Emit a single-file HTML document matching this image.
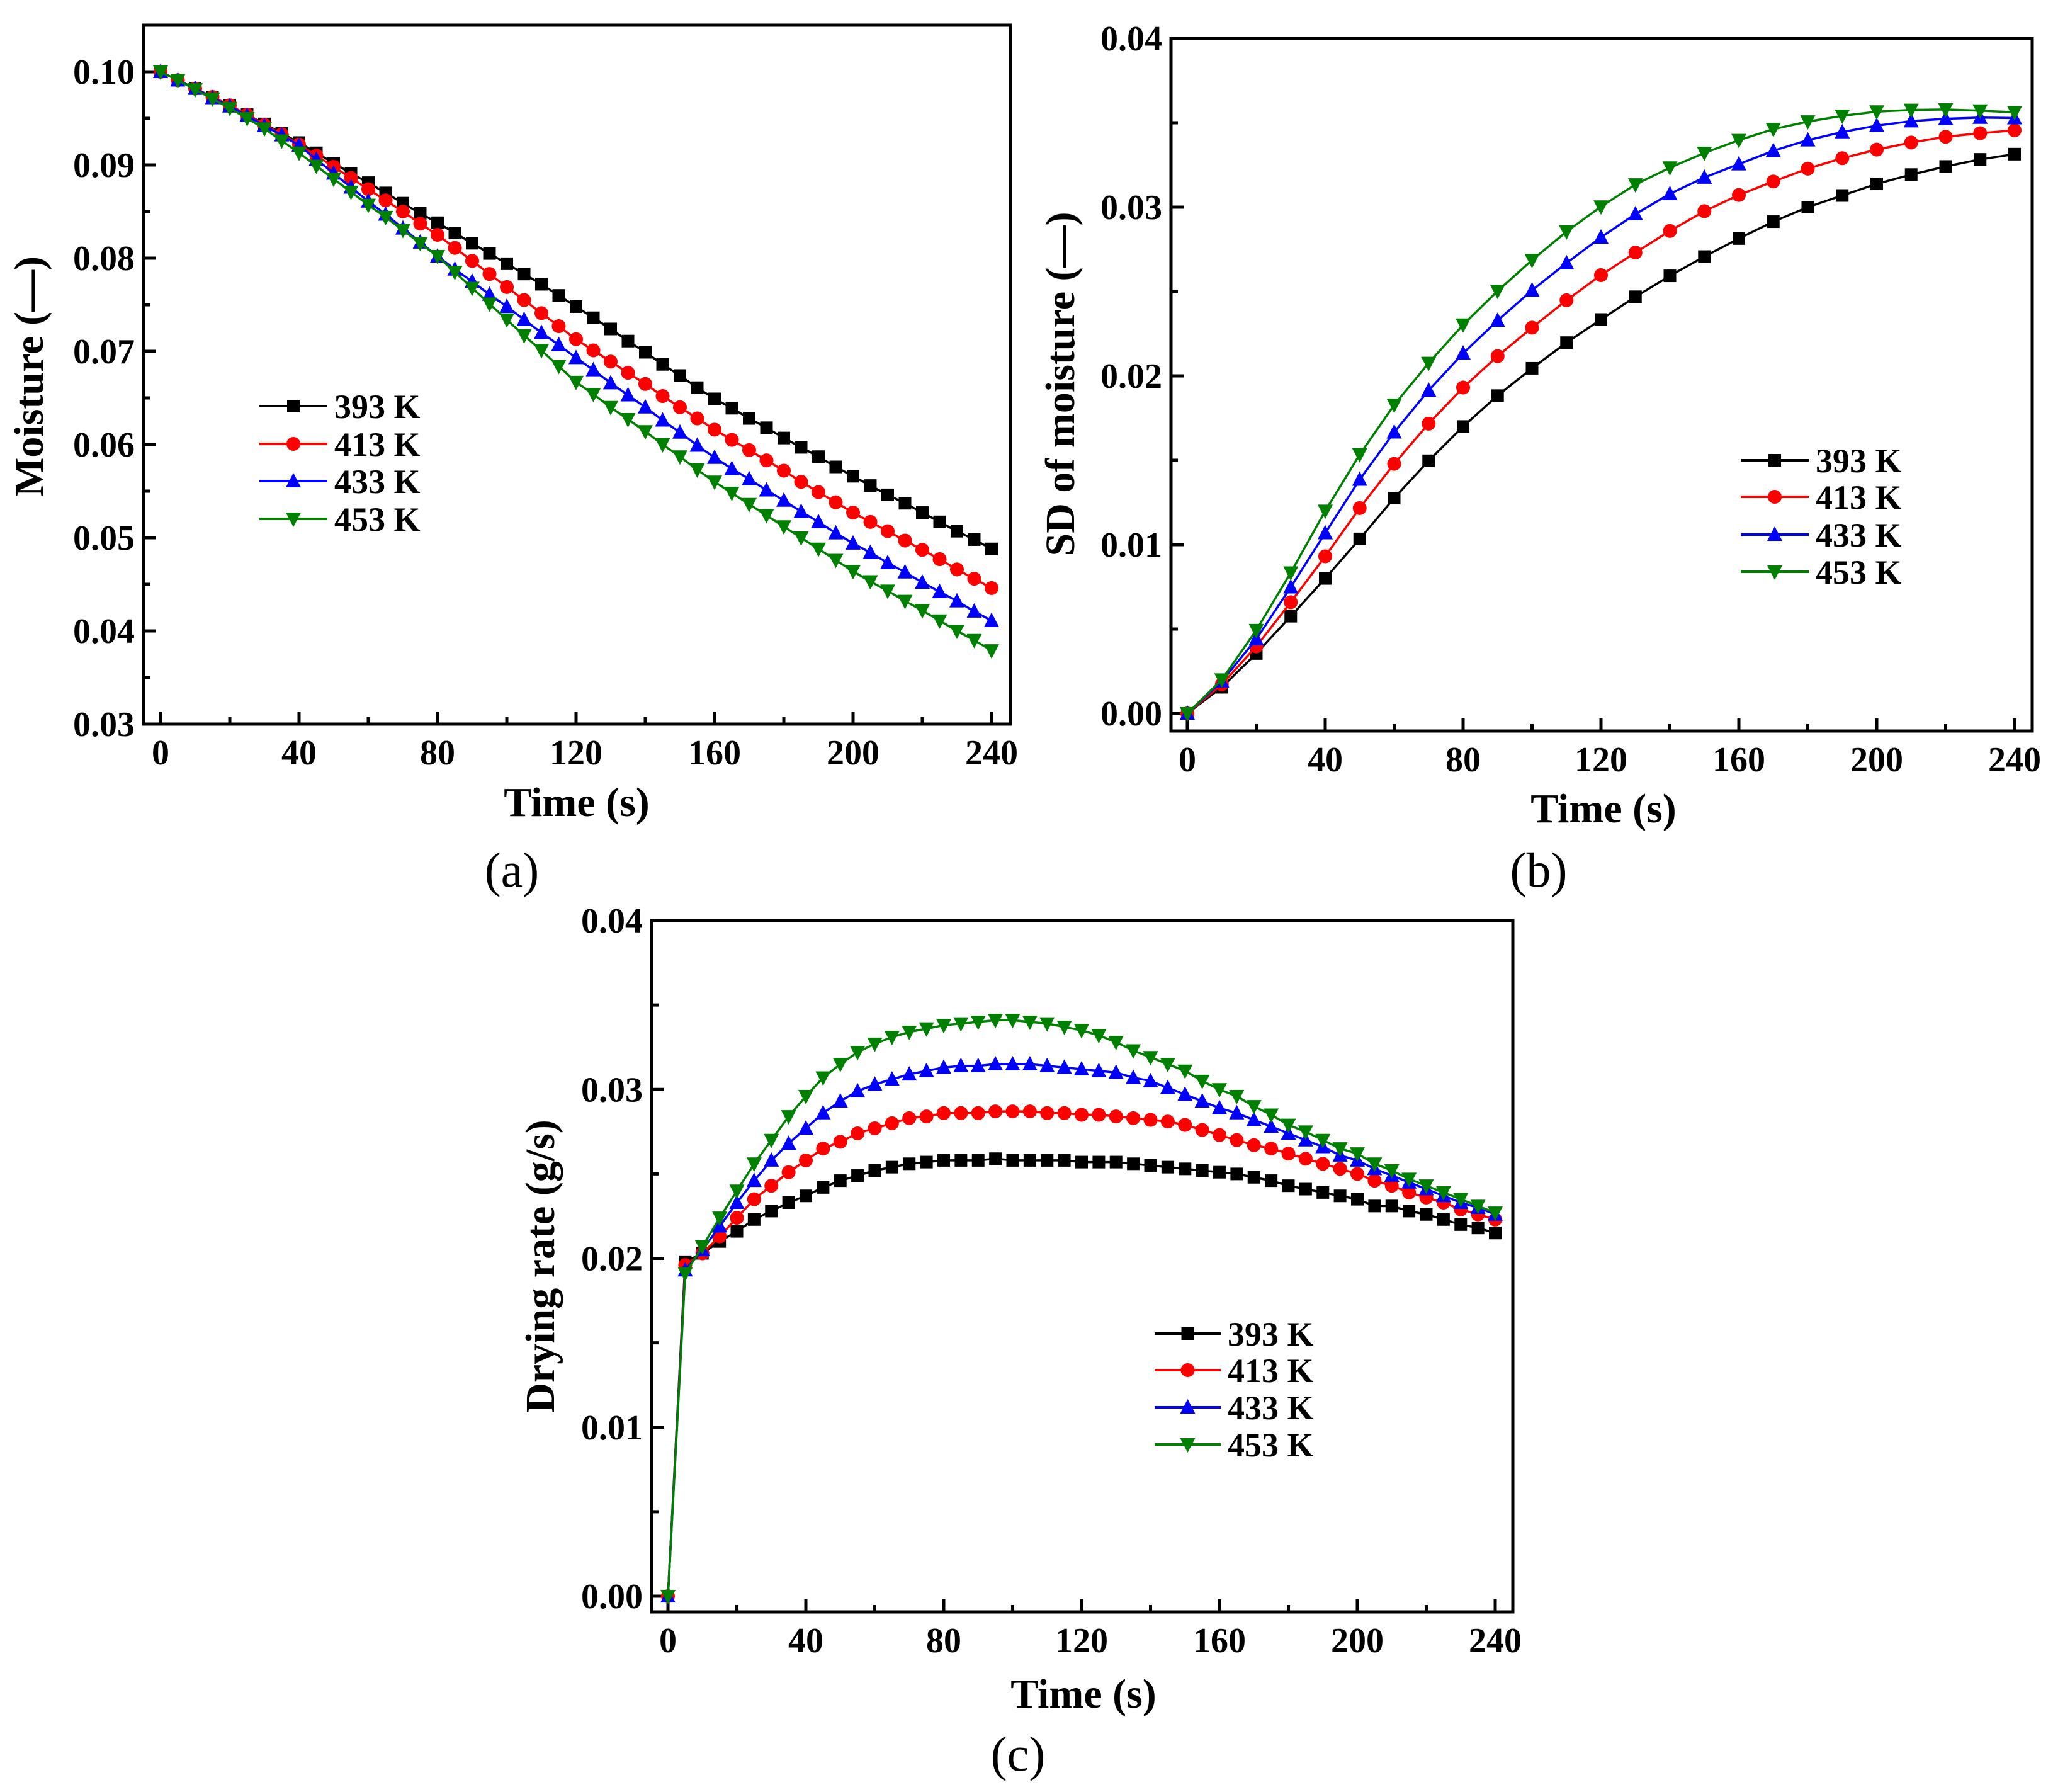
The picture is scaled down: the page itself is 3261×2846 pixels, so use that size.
<!DOCTYPE html>
<html><head><meta charset="utf-8"><style>
html,body{margin:0;padding:0;background:#fff;}
svg{display:block;font-family:"Liberation Serif",serif;}
</style></head><body>
<svg id="fig" width="3261" height="2846" viewBox="0 0 3261 2846" xmlns="http://www.w3.org/2000/svg"></svg>
<script>
const seriesNames = ["393 K","413 K","433 K","453 K"];
const seriesColors = ["#000000","#ff0000","#0000ff","#008000"];
const markerShapes = ["square","circle","up","down"];

// (a) moisture, every 5 s
const timeA = [0,5,10,15,20,25,30,35,40,45,50,55,60,65,70,75,80,85,90,95,100,105,110,115,120,125,130,135,140,145,150,155,160,165,170,175,180,185,190,195,200,205,210,215,220,225,230,235,240];
const moist393 = [.1000,.0991,.0982,.0973,.0964,.0954,.0944,.0934,.0924,.0913,.0902,.0891,.0881,.0870,.0859,.0848,.0838,.0827,.0816,.0805,.0794,.0783,.0772,.0760,.0748,.0736,.0724,.0711,.0699,.0686,.0674,.0661,.0649,.0639,.0628,.0618,.0607,.0597,.0587,.0576,.0566,.0556,.0546,.0537,.0527,.0517,.0507,.0498,.0488];
const moist413 = [.1000,.0991,.0982,.0973,.0964,.0954,.0943,.0933,.0922,.0910,.0898,.0886,.0874,.0862,.0850,.0837,.0825,.0811,.0797,.0783,.0769,.0755,.0741,.0727,.0713,.0701,.0689,.0677,.0665,.0652,.0640,.0628,.0616,.0605,.0594,.0583,.0572,.0560,.0549,.0538,.0527,.0517,.0507,.0497,.0487,.0477,.0466,.0456,.0446];
const moist433 = [.1000,.0991,.0982,.0972,.0963,.0953,.0942,.0932,.0921,.0906,.0891,.0876,.0861,.0847,.0832,.0817,.0802,.0788,.0775,.0761,.0748,.0734,.0720,.0707,.0693,.0680,.0666,.0653,.0640,.0626,.0613,.0599,.0586,.0574,.0563,.0551,.0540,.0528,.0517,.0505,.0494,.0484,.0473,.0463,.0452,.0442,.0432,.0421,.0411];
const moist453 = [.1000,.0991,.0981,.0971,.0961,.0950,.0939,.0926,.0913,.0899,.0885,.0871,.0857,.0844,.0830,.0816,.0802,.0785,.0768,.0751,.0734,.0717,.0701,.0684,.0667,.0654,.0640,.0627,.0614,.0600,.0587,.0573,.0560,.0548,.0536,.0524,.0512,.0500,.0488,.0476,.0464,.0453,.0443,.0432,.0422,.0411,.0400,.0390,.0379];

// (b) SD of moisture, every 10 s
const timeB = [0,10,20,30,40,50,60,70,80,90,100,110,120,130,140,150,160,170,180,190,200,210,220,230,240];
const sd393 = [0,.00155,.00355,.00576,.0080,.01034,.01276,.01497,.0170,.01883,.02045,.02197,.02334,.02469,.02593,.02707,.02814,.02914,.0300,.03069,.03138,.03193,.03241,.03283,.03314];
const sd413 = [0,.00172,.00397,.00659,.00931,.01217,.01479,.01717,.01931,.02117,.02286,.02448,.02597,.02731,.02859,.02976,.03072,.03152,.03228,.0329,.03341,.03383,.03417,.03438,.03455];
const sd433 = [0,.0019,.00441,.00748,.01069,.01386,.01666,.01914,.02134,.02328,.02507,.02669,.02821,.02959,.03079,.03176,.03255,.03334,.03397,.03445,.03483,.0351,.03524,.03531,.03528];
const sd453 = [0,.0020,.00493,.00834,.0120,.01534,.01828,.02076,.02303,.02503,.02686,.02855,.03003,.03134,.03234,.03321,.03397,.03462,.03507,.03541,.03566,.03576,.03579,.03572,.03562];

// (c) drying rate, every 5 s
const timeC = timeA;
const rate393 = [0,.0198,.0203,.0210,.0216,.0223,.0228,.0233,.0237,.0242,.0246,.0249,.0252,.0254,.0256,.0257,.0258,.0258,.0258,.0259,.0258,.0258,.0258,.0258,.0257,.0257,.0257,.0256,.0255,.0254,.0253,.0252,.0251,.0250,.0248,.0246,.0243,.0241,.0239,.0237,.0235,.0231,.0231,.0228,.0226,.0223,.0220,.0218,.0215];
const rate413 = [0,.0196,.0203,.0213,.0224,.0235,.0243,.0251,.0258,.0265,.0269,.0274,.0277,.0280,.0283,.0284,.0286,.0286,.0286,.0287,.0287,.0287,.0286,.0286,.0285,.0285,.0284,.0283,.0282,.0281,.0279,.0276,.0273,.0270,.0267,.0265,.0262,.0259,.0256,.0253,.0250,.0246,.0243,.0239,.0236,.0233,.0229,.0226,.0223];
const rate433 = [0,.0193,.0205,.0219,.0233,.0246,.0258,.0268,.0277,.0286,.0293,.0299,.0303,.0306,.0309,.0311,.0313,.0314,.0314,.0315,.0315,.0315,.0314,.0313,.0312,.0311,.0310,.0307,.0305,.0301,.0297,.0293,.0289,.0286,.0282,.0278,.0274,.0270,.0266,.0261,.0258,.0253,.0249,.0245,.0241,.0237,.0233,.0230,.0226];
const rate453 = [0,.0191,.0207,.0224,.0240,.0256,.0270,.0284,.0296,.0307,.0315,.0322,.0327,.0331,.0334,.0336,.0338,.0339,.0340,.0341,.0341,.0340,.0339,.0337,.0335,.0332,.0328,.0323,.0319,.0315,.0311,.0305,.0300,.0296,.0290,.0285,.0279,.0275,.0270,.0265,.0262,.0256,.0252,.0247,.0243,.0239,.0235,.0231,.0227];

const xTickLabels = ["0","40","80","120","160","200","240"];
const yTicksA = ["0.03","0.04","0.05","0.06","0.07","0.08","0.09","0.10"];
const yTicksB = ["0.00","0.01","0.02","0.03","0.04"];
const yTicksC = ["0.00","0.01","0.02","0.03","0.04"];

const NS="http://www.w3.org/2000/svg";
const fig=document.getElementById('fig');
function mk(tag,attrs,parent){const e=document.createElementNS(NS,tag);for(const k in attrs)e.setAttribute(k,attrs[k]);(parent||fig).appendChild(e);return e;}

function marker(g,shape,x,y,color){
  const s=10;let e;
  if(shape==="square")e=mk('rect',{x:x-s,y:y-s,width:2*s,height:2*s,fill:color},g);
  else if(shape==="circle")e=mk('circle',{cx:x,cy:y,r:s+1,fill:color},g);
  else if(shape==="up")e=mk('polygon',{points:`${x},${y-s-3} ${x-s-2},${y+s} ${x+s+2},${y+s}`,fill:color},g);
  else e=mk('polygon',{points:`${x},${y+s+3} ${x-s-2},${y-s} ${x+s+2},${y-s}`,fill:color},g);
  return e;
}

function plot(cfg){
  const g=mk('g',{});
  
  
  const xs=v=>cfg.x0+(v-0)/240*(cfg.x240-cfg.x0);
  const ys=v=>cfg.yb+(v-cfg.vmin)/(cfg.vmax-cfg.vmin)*(cfg.yt-cfg.yb);
  for(let i=0;i<xTickLabels.length;i++){
    const v=+xTickLabels[i],x=xs(v);
    const t=mk('line',{x1:x,x2:x,y1:cfg.B,y2:cfg.B-20,stroke:'#000','stroke-width':5},g);
    
    if(i<xTickLabels.length-1){const xm=xs(v+20);mk('line',{x1:xm,x2:xm,y1:cfg.B,y2:cfg.B-11,stroke:'#000','stroke-width':5},g);}
    const tl=mk('text',{x:x,y:cfg.B+64,'text-anchor':'middle','font-size':56,'font-weight':'bold'},g);
    tl.textContent=xTickLabels[i];
    
  }
  const yt=cfg.yTicks;
  for(let i=0;i<yt.length;i++){
    const v=+yt[i],y=ys(v);
    const t=mk('line',{x1:cfg.L,x2:cfg.L+20,y1:y,y2:y,stroke:'#000','stroke-width':5},g);
    
    if(i<yt.length-1){const ym=ys(v+cfg.step/2);mk('line',{x1:cfg.L,x2:cfg.L+11,y1:ym,y2:ym,stroke:'#000','stroke-width':5},g);}
    const tl=mk('text',{x:cfg.L-14,y:y+19,'text-anchor':'end','font-size':56,'font-weight':'bold'},g);
    tl.textContent=yt[i];
    
  }
  for(let s=0;s<4;s++){
    const sg=mk('g',{},g);
    
    
    const vals=cfg.series[s];
    const pts=cfg.time.map((t,i)=>xs(t)+','+ys(vals[i])).join(' ');
    mk('polyline',{points:pts,fill:'none',stroke:seriesColors[s],'stroke-width':3.5},sg);
    cfg.time.forEach((t,i)=>{
      const m=marker(sg,markerShapes[s],xs(t),ys(vals[i]),seriesColors[s]);
      
      
    });
  }
  const f=mk('rect',{x:cfg.L,y:cfg.T,width:cfg.R-cfg.L,height:cfg.B-cfg.T,fill:'none',stroke:'#000','stroke-width':5},g);
  
  const lg=mk('g',{},g);
  
  for(let s=0;s<4;s++){
    const y=cfg.legY[s];
    const e=mk('g',{},lg);
    
    mk('line',{x1:cfg.legX1,x2:cfg.legX2,y1:y,y2:y,stroke:seriesColors[s],'stroke-width':4},e);
    marker(e,markerShapes[s],(cfg.legX1+cfg.legX2)/2,y,seriesColors[s]);
    const t=mk('text',{x:cfg.legX2+11,y:y+19,'font-size':54,'font-weight':'bold'},e);
    t.textContent=seriesNames[s];
  }
  const xt=mk('text',{x:cfg.xtX,y:cfg.xtY,'text-anchor':'middle','font-size':66,'font-weight':'bold'},g);
  xt.textContent='Time (s)';
  const yl=mk('text',{x:0,y:0,'text-anchor':'middle','font-size':66,'font-weight':'bold',transform:`translate(${cfg.ytX},${cfg.ytY}) rotate(-90)`},g);
  yl.textContent=cfg.yTitle;
  const pl=mk('text',{x:cfg.plX,y:cfg.plY,'text-anchor':'middle','font-size':78},g);
  pl.textContent=cfg.panel;
}

plot({name:'chart-a-moisture',L:228,R:1605,T:40,B:1150,x0:255,x240:1575,yb:1150,yt:114,vmin:0.03,vmax:0.10,step:0.01,yTicks:yTicksA,time:timeA,series:[moist393,moist413,moist433,moist453],legX1:412,legX2:520,legY:[645,705,764,824],xtX:916,xtY:1296,ytX:68,ytY:598,yTitle:'Moisture (\u2014)',panel:'(a)',plX:813,plY:1408});
plot({name:'chart-b-sd-moisture',L:1860,R:3228,T:61,B:1161,x0:1886,x240:3200,yb:1133,yt:61,vmin:0,vmax:0.04,step:0.01,yTicks:yTicksB,time:timeB,series:[sd393,sd413,sd433,sd453],legX1:2765,legX2:2873,legY:[731,789,849,908],xtX:2547,xtY:1306,ytX:1706,ytY:610,yTitle:'SD of moisture (\u2014)',panel:'(b)',plX:2444,plY:1408});
plot({name:'chart-c-drying-rate',L:1035,R:2403,T:1462,B:2560,x0:1061,x240:2375,yb:2535,yt:1462,vmin:0,vmax:0.04,step:0.01,yTicks:yTicksC,time:timeC,series:[rate393,rate413,rate433,rate453],legX1:1834,legX2:1939,legY:[2118,2176,2235,2294],xtX:1721,xtY:2712,ytX:880,ytY:2011,yTitle:'Drying rate (g/s)',panel:'(c)',plX:1617,plY:2812});
</script>
</body></html>
